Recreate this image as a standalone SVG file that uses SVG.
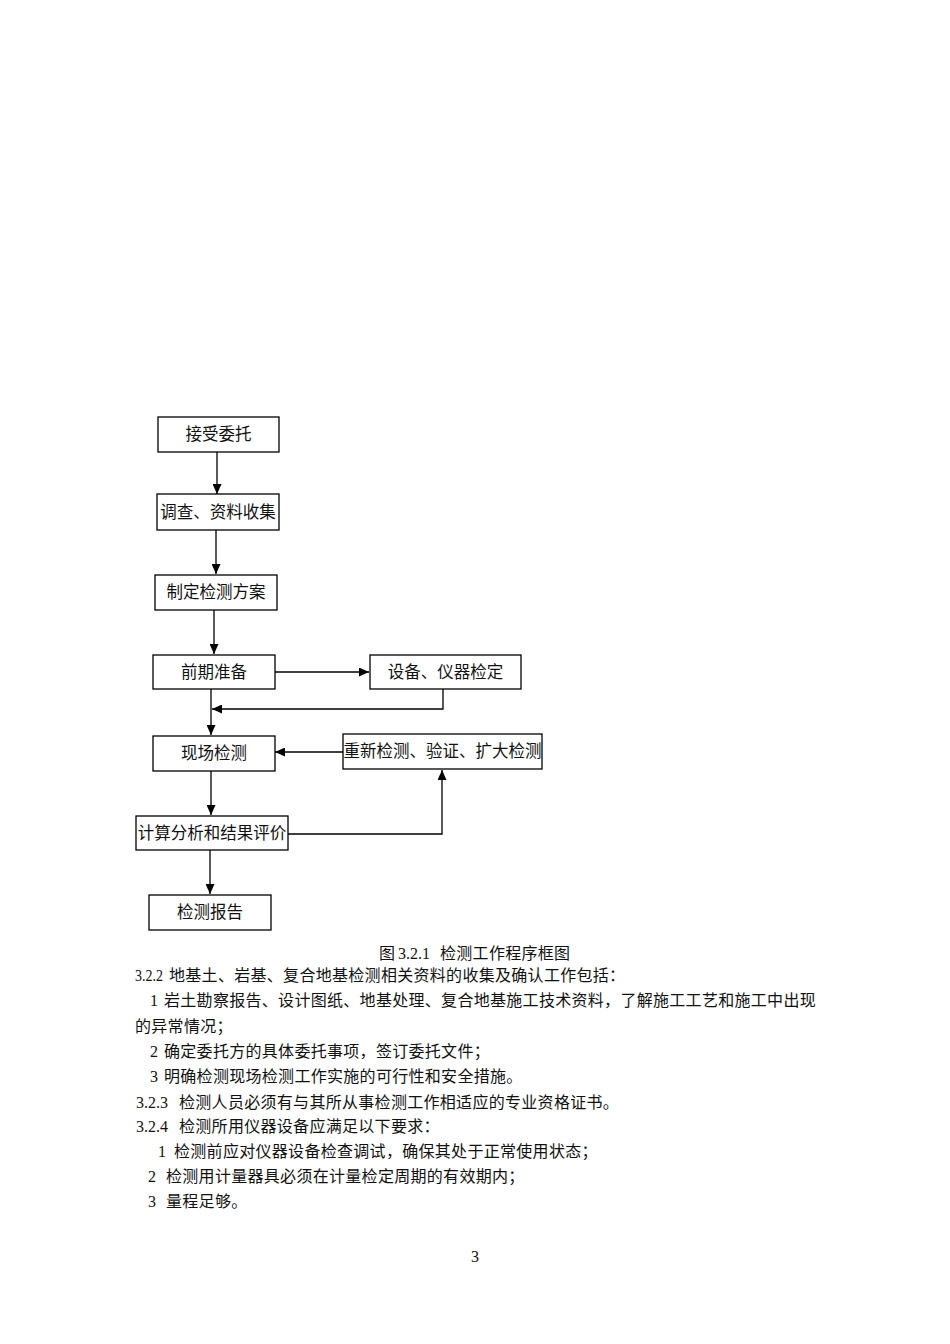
<svg xmlns="http://www.w3.org/2000/svg" width="950" height="1344" viewBox="0 0 950 1344">
<style>
.box{fill:#fff;stroke:#000;stroke-width:1.3}
.lbl{font-family:"Noto Sans CJK SC","Liberation Sans",sans-serif;font-size:16.5px;fill:#111;text-anchor:middle}
.conn{fill:none;stroke:#000;stroke-width:1.3}
.body{font-family:"Noto Sans CJK SC","Liberation Serif",serif;font-size:16px;fill:#111;letter-spacing:0.3px}
.num{font-family:"Liberation Serif","Noto Sans CJK SC",serif;font-size:16px;fill:#111}
</style>
<defs>
<marker id="arr" markerUnits="userSpaceOnUse" markerWidth="11" markerHeight="9" refX="10" refY="4.5" orient="auto">
<path d="M0,0 L10,4.5 L0,9 Z" fill="#000"/>
</marker>
</defs>
<rect width="950" height="1344" fill="#fff"/>
<g id="connectors">
<line class="conn" x1="217" y1="452" x2="217" y2="494" marker-end="url(#arr)"/>
<line class="conn" x1="216" y1="530" x2="216" y2="574" marker-end="url(#arr)"/>
<line class="conn" x1="214" y1="610" x2="214" y2="654" marker-end="url(#arr)"/>
<line class="conn" x1="275" y1="672" x2="369" y2="672" marker-end="url(#arr)"/>
<polyline class="conn" points="443,689 443,709 212,709" marker-end="url(#arr)"/>
<line class="conn" x1="211" y1="689" x2="211" y2="735" marker-end="url(#arr)"/>
<line class="conn" x1="343" y1="752" x2="275" y2="752" marker-end="url(#arr)"/>
<line class="conn" x1="211" y1="771" x2="211" y2="815" marker-end="url(#arr)"/>
<polyline class="conn" points="288,834 442,834 442,770" marker-end="url(#arr)"/>
<line class="conn" x1="210" y1="850" x2="210" y2="894" marker-end="url(#arr)"/>
</g>
<g id="n1"><rect class="box" x="158" y="417" width="121" height="35"/><text class="lbl" x="218.5" y="440">接受委托</text></g>
<g id="n2"><rect class="box" x="157" y="494" width="122" height="36"/><text class="lbl" x="218" y="518">调查、资料收集</text></g>
<g id="n3"><rect class="box" x="155" y="575" width="122" height="35"/><text class="lbl" x="216" y="598">制定检测方案</text></g>
<g id="n4"><rect class="box" x="153" y="655" width="122" height="34"/><text class="lbl" x="214" y="678">前期准备</text></g>
<g id="n5"><rect class="box" x="370" y="655" width="151" height="34"/><text class="lbl" x="445.5" y="678">设备、仪器检定</text></g>
<g id="n6"><rect class="box" x="153" y="736" width="122" height="35"/><text class="lbl" x="214" y="759">现场检测</text></g>
<g id="n7"><rect class="box" x="343" y="734" width="199" height="35"/><text class="lbl" x="442.5" y="757">重新检测、验证、扩大检测</text></g>
<g id="n8"><rect class="box" x="136" y="816" width="152" height="34"/><text class="lbl" x="212" y="839">计算分析和结果评价</text></g>
<g id="n9"><rect class="box" x="149" y="895" width="122" height="35"/><text class="lbl" x="210" y="918">检测报告</text></g>
<g id="text">
<text class="body" x="379" y="959">图</text>
<text class="num" x="398" y="959">3.2.1</text>
<text class="body" x="440" y="959">检测工作程序框图</text>
<text class="num" x="135" y="981" textLength="28" lengthAdjust="spacingAndGlyphs">3.2.2</text>
<text class="body" x="169" y="981">地基土、岩基、复合地基检测相关资料的收集及确认工作包括：</text>
<text class="num" x="150" y="1006">1</text>
<text class="body" x="164" y="1006">岩土勘察报告、设计图纸、地基处理、复合地基施工技术资料，了解施工工艺和施工中出现</text>
<text class="body" x="135" y="1032">的异常情况；</text>
<text class="num" x="150" y="1057">2</text>
<text class="body" x="164" y="1057">确定委托方的具体委托事项，签订委托文件；</text>
<text class="num" x="150" y="1082">3</text>
<text class="body" x="164" y="1082">明确检测现场检测工作实施的可行性和安全措施。</text>
<text class="num" x="136" y="1108">3.2.3</text>
<text class="body" x="179" y="1108">检测人员必须有与其所从事检测工作相适应的专业资格证书。</text>
<text class="num" x="136" y="1132">3.2.4</text>
<text class="body" x="179" y="1132">检测所用仪器设备应满足以下要求：</text>
<text class="num" x="158" y="1157">1</text>
<text class="body" x="174" y="1157">检测前应对仪器设备检查调试，确保其处于正常使用状态；</text>
<text class="num" x="148" y="1182">2</text>
<text class="body" x="166" y="1182">检测用计量器具必须在计量检定周期的有效期内；</text>
<text class="num" x="148" y="1207">3</text>
<text class="body" x="166" y="1207">量程足够。</text>
<text class="num" x="475" y="1262" text-anchor="middle">3</text>
</g>
</svg>
